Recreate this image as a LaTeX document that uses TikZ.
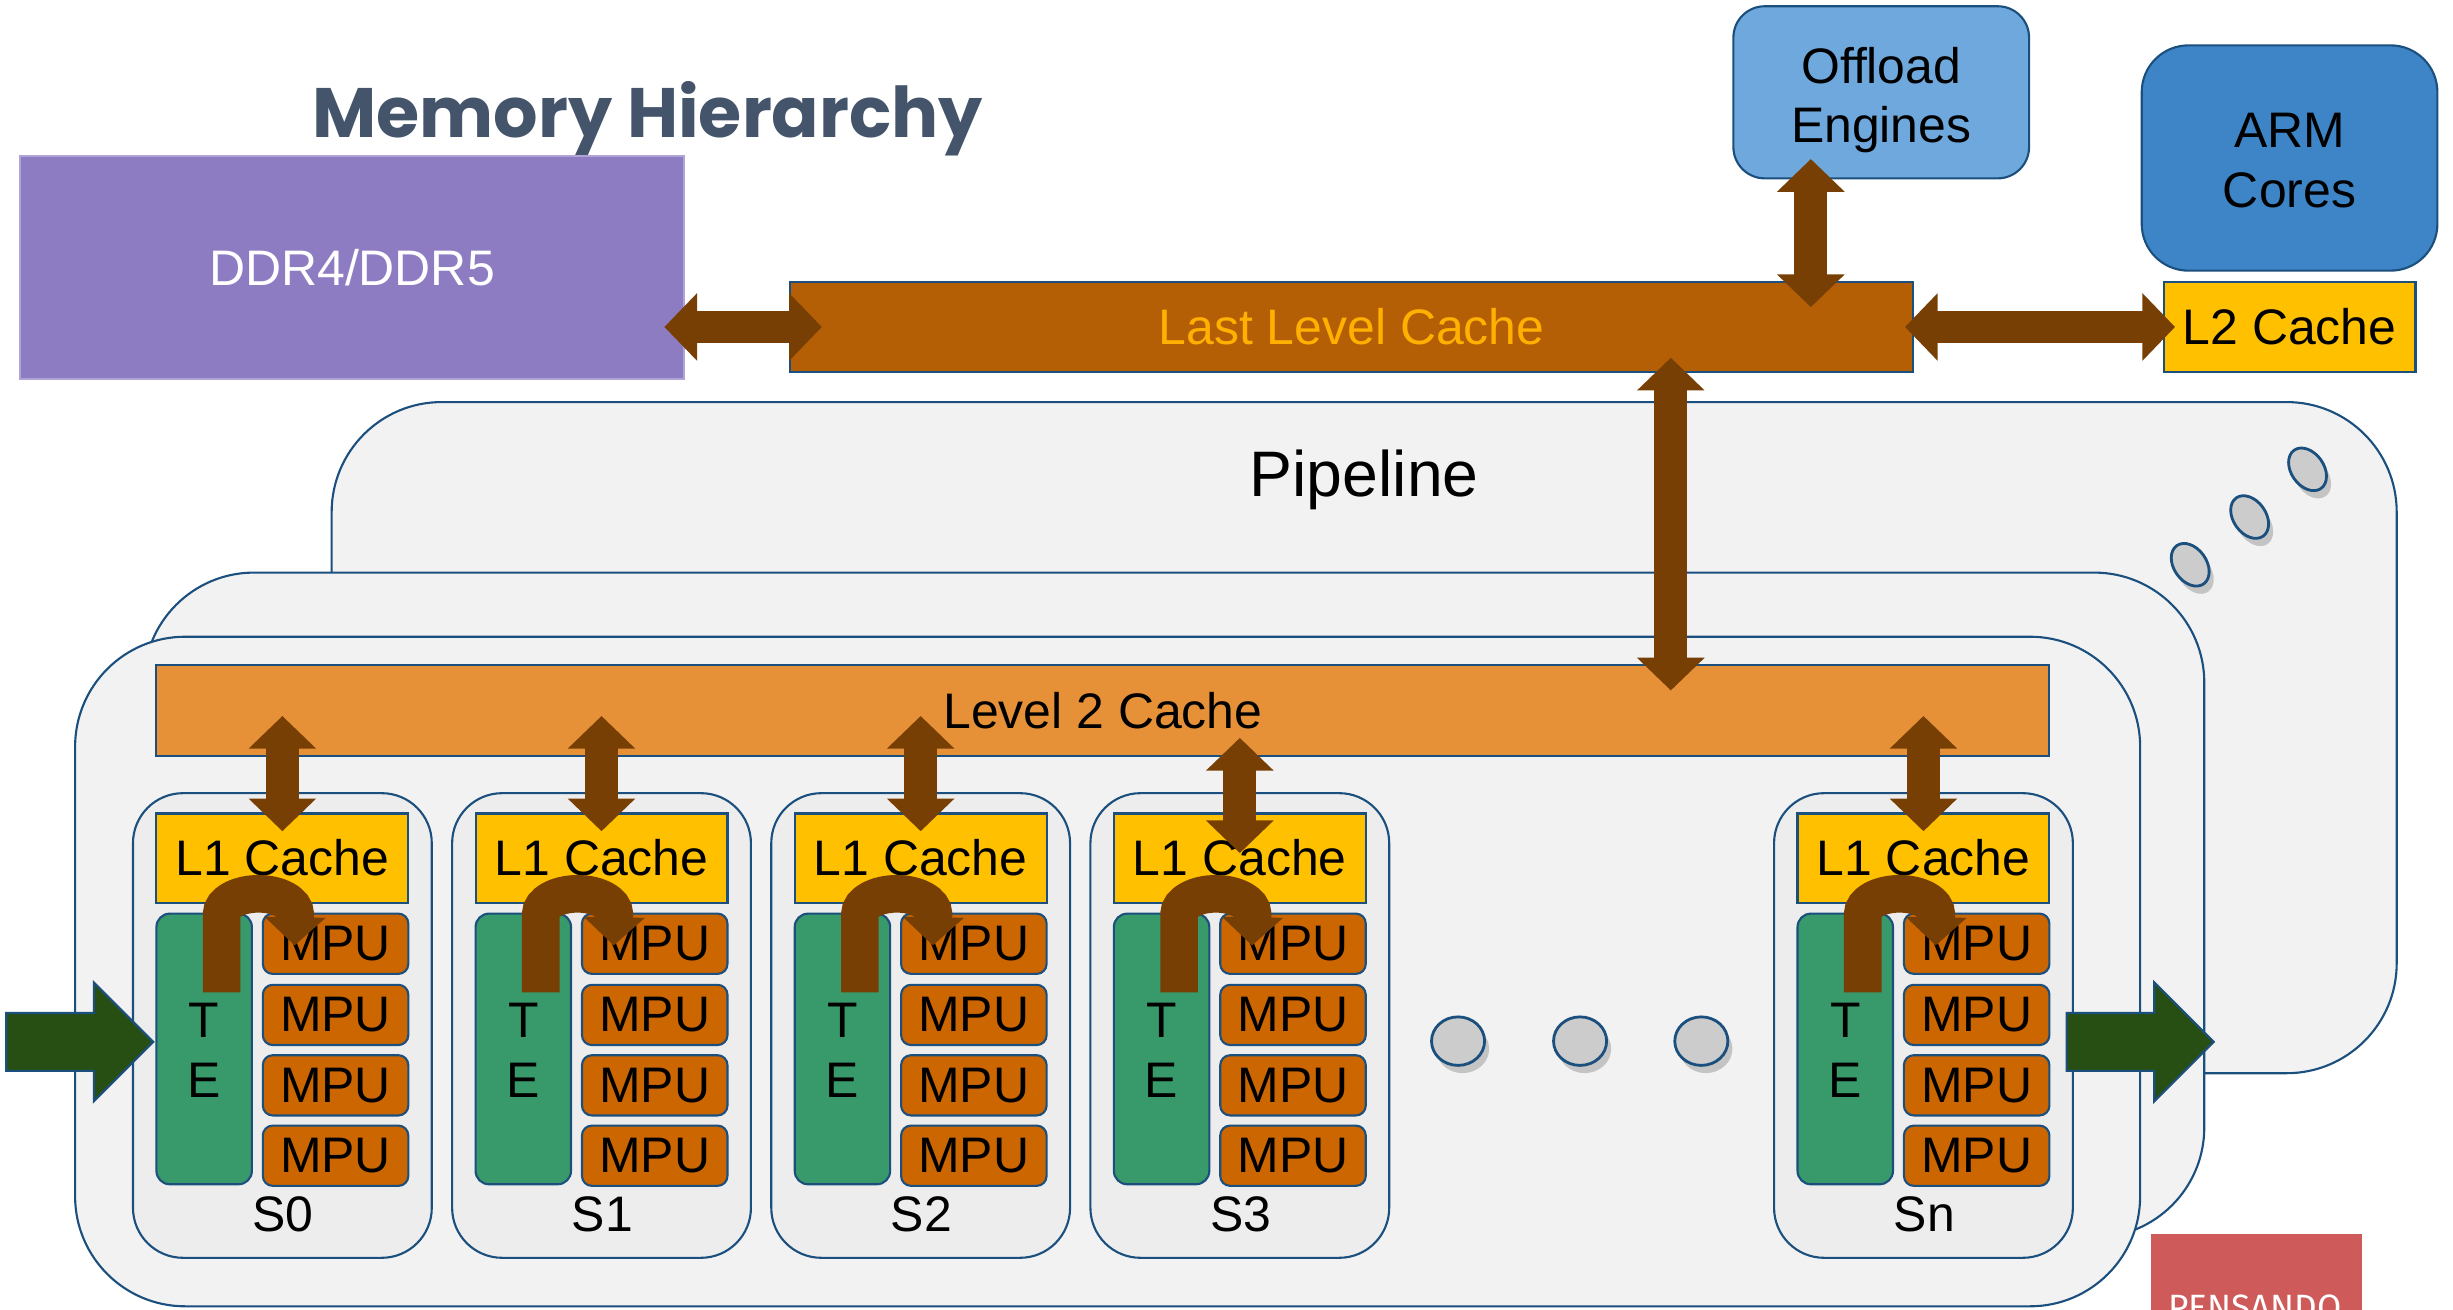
\documentclass[tikz,border=0pt]{standalone}
\usepackage{fontspec}
\setmainfont{Liberation Sans}
\newfontfamily\titlefont{Poppins}
\newfontfamily\logofont{Fira Sans}
\usetikzlibrary{calc}
\usetikzlibrary{fit,shapes.geometric,shadows,arrows.meta}

\definecolor{edgeblue}{HTML}{1B4F7E}
\definecolor{titlegray}{HTML}{44546A}
\definecolor{ddrpurple}{HTML}{8E7CC3}
\definecolor{llcbrown}{HTML}{B45F06}
\definecolor{llctext}{HTML}{FFB000}
\definecolor{offblue}{HTML}{6FA8DC}
\definecolor{armblue}{HTML}{3D85C6}
\definecolor{cacheyellow}{HTML}{FFC000}
\definecolor{busbrown}{HTML}{783F04}
\definecolor{ltwoorange}{HTML}{E69138}
\definecolor{panelgray}{HTML}{F2F2F2}
\definecolor{stagegray}{HTML}{EDEDED}
\definecolor{tegreen}{HTML}{38996A}
\definecolor{mpuorange}{HTML}{CC6600}
\definecolor{flowgreen}{HTML}{274E13}
\definecolor{dotgray}{HTML}{CCCCCC}
\definecolor{logored}{HTML}{CF5A5A}

\tikzset{
  every node/.style={font=\fontsize{14.2}{17}\selectfont, inner sep=0pt},
  box/.style={draw=edgeblue, line width=0.6pt, inner sep=0pt},
  panel/.style={box, fill=panelgray, rounded corners=1.1cm},
  stagebox/.style={box, fill=stagegray, rounded corners=0.5cm},
  bus/.style={draw=busbrown, line width=9.3pt,
    arrows={Triangle[width=18.7pt,length=9.3pt]-Triangle[width=18.7pt,length=9.3pt]}},
  uturn/.style={draw=busbrown, line width=10.7pt, arrows={-Triangle[width=16.9pt,length=8pt]}},
  flow/.style={draw=edgeblue, line width=0.6pt, fill=flowgreen},
  dot/.style={ellipse, draw=edgeblue, line width=0.8pt, fill=dotgray, inner sep=0pt,
    drop shadow={shadow xshift=1.3pt, shadow yshift=-2.2pt, opacity=0.4}},
}

% block arrow for packets in / out
\newcommand{\flowarrow}[1]{\filldraw[flow] (#1) -- ++(0,-18.5) -- ++(56,0) -- ++(0,-19.5) -- ++(38,38) -- ++(-38,38) -- ++(0,-19.5) -- ++(-56,0) -- cycle;}

% one stage: left x, label, index, shift of the L2 arrow
\newcommand{\pipestage}[4]{%
  \node[stagebox, fit={(#1,507) (#1+191,804)}] (st#3) {};
  \node[box, fill=cacheyellow, fit={(#1+15,520) (#1+176,577)}] (lone#3) {};
  \node (lonetext#3) at (lone#3) {L1 Cache};
  \node[box, fill=tegreen, rounded corners=3.8pt, fit={(#1+15,584) (#1+76,757)}] (te#3) {};
  \node[align=center] (tetext#3) at ($(te#3)+(0,1)$) {T\\E};
  \foreach \row/\ytop in {a/584,b/629.5,c/674.5,d/719.5}{
    \node[box, fill=mpuorange, rounded corners=2.8pt, fit={(#1+83,\ytop) (#1+176,\ytop+38.5)}] (mpu\row#3) {};
    \node (mputext\row#3) at (mpu\row#3) {MPU};
  }
  \node (name#3) at (#1+96,776) {#2};
  \draw[bus] ($(lone#3.north |- ltwo.south)+(0,-26+#4)$) -- ($(lone#3.north)+(0,12+#4)$);
  \draw[uturn] ($(te#3.north east)+(-20,51)$) -- ++(0,-50)
    arc[start angle=180, end angle=360, x radius=23.5, y radius=13] -- ($(mpua#3.north west)+(21,21)$);
}

\begin{document}
\begin{tikzpicture}[x=0.015645cm, y=-0.015645cm]
  \useasboundingbox (0,0) rectangle (1568,837);

  \node[anchor=base, text=titlegray, font=\titlefont\bfseries\fontsize{19.9}{24}\selectfont] (title) at (414,88) {Memory Hierarchy};

  %memory side
  \node[fill=ddrpurple, draw=ddrpurple!70!white, line width=0.6pt, fit={(13,100) (437,242)}] (ddr) {};
  \node[text=white] (ddrtext) at (ddr) {DDR4/DDR5};
  \node[box, fill=llcbrown, fit={(505,180) (1223,238)}] (llc) {};
  \node[text=llctext] (llctext) at (llc) {Last Level Cache};
  \node[box, fill=offblue, rounded corners=8.9pt, fit={(1108,4) (1297,114)}] (offload) {};
  \node[align=center] (offtext) at ($(offload)+(0,5)$) {Offload\\Engines};
  \node[box, fill=armblue, rounded corners=13.3pt, fit={(1369,29) (1558,173)}] (arm) {};
  \node[align=center] (armtext) at ($(arm)+(0,1.5)$) {ARM\\Cores};
  \node[box, fill=cacheyellow, fit={(1383,180) (1544,238)}] (ltop) {};
  \node (ltoptext) at (ltop) {L2 Cache};

  %pipelines
  \node[panel, fit={(212,257) (1532,686)}] (pipe3) {};
  \node[anchor=base, font=\fontsize{18.3}{22}\selectfont] (pipename) at (872,317.5) {Pipeline};
  \node[panel, fit={(92,366) (1409,791)}] (pipe2) {};
  \node[panel, fit={(48,407) (1368,835)}] (pipe1) {};
  \node[box, fill=ltwoorange, fit={(100,425) (1310,483)}] (ltwo) {};
  \node (ltwotext) at (ltwo) {Level 2 Cache};

  \foreach \x/\s/\d [count=\i] in {85/S0/0, 289/S1/0, 493/S2/0, 697/S3/14, 1134/Sn/0}
    \pipestage{\x}{\s}{\i}{\d};

  \coordinate (pktin) at (4,666);
  \coordinate (pktout) at (1321,666);
  \flowarrow{pktin}
  \flowarrow{pktout}

  \foreach \cx [count=\n] in {932,1010,1087.5}
    \node[dot, minimum width=15.1pt, minimum height=13.8pt] (hdot\n) at (\cx,665.5) {};
  \foreach \cx/\cy [count=\n] in {1475/300, 1438/330.5, 1400/361}
    \node[dot, minimum width=13.3pt, minimum height=9.3pt, rotate=-55] (ddot\n) at (\cx,\cy) {};

  \draw[bus] ($(ddr.east |- llc.west)+(-13,0)$) -- ($(llc.west)+(21,0)$);
  \draw[bus] ($(offload.south)+(-45,-13)$) -- ($(offload.south |- llc.north)+(-45,17)$);
  \draw[bus] ($(llc.east)+(-6,0)$) -- ($(ltop.west)+(8,0)$);
  \draw[bus] ($(llc.south)+(204,-10)$) -- ($(llc.south |- ltwo.north)+(204,17)$);

  %logo
  \begin{scope}
    \clip (1375,789) rectangle (1510,837);
    \node[fill=logored, fit={(1375,789) (1510,850)}] (logo) {};
    \node[anchor=base, text=white, font=\logofont\fontsize{10}{12}\selectfont] (logoname) at (1441.5,843.5) {PENSANDO};
  \end{scope}
\end{tikzpicture}
\end{document}
